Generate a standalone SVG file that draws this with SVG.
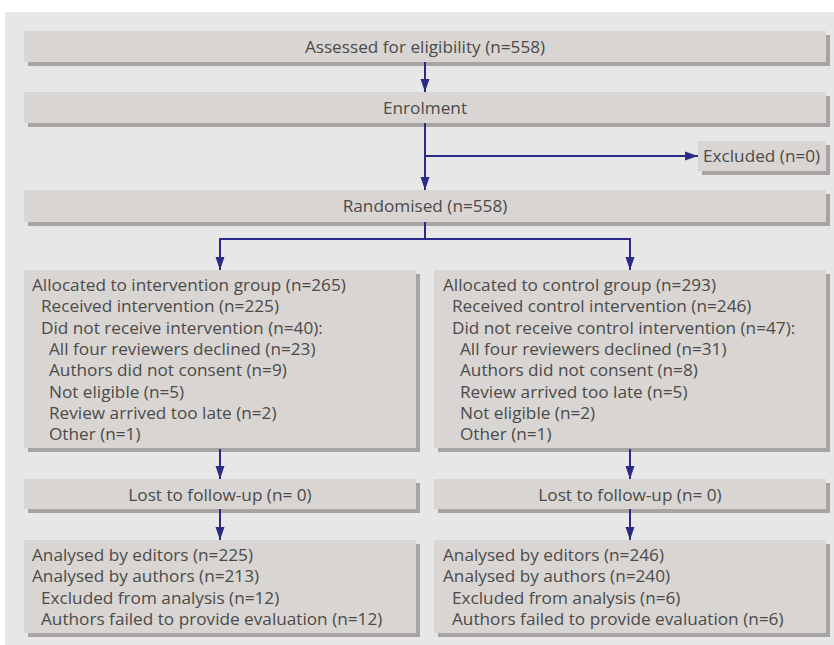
<svg xmlns="http://www.w3.org/2000/svg" width="834" height="645" viewBox="0 0 834 645">
<defs>
<marker id="ah" markerUnits="userSpaceOnUse" markerWidth="14" markerHeight="10" refX="13" refY="5" orient="auto">
<path d="M0,0.5 L13,5 L0,9.5 Z" fill="#2b2a86"/>
</marker>
</defs>
<style>
.box{fill:#d9d5d2}
.sh{fill:#a8a4a3}
text{font-family:"Open Sans","Noto Sans",sans-serif;font-size:17.2px;fill:#4b4b4b}
.c{text-anchor:middle}
.ln{fill:none;stroke:#2b2a86;stroke-width:2}
</style>
<rect x="5" y="12" width="829" height="633" fill="#e7e7e7"/>
<g id="assessed">
<rect class="sh" x="28" y="35" width="802" height="31"/>
<rect class="box" x="24" y="31" width="802" height="31"/>
<text class="c" x="425" y="52.5">Assessed for eligibility (n=558)</text>
</g>
<g id="enrolment">
<rect class="sh" x="28" y="96" width="802" height="31"/>
<rect class="box" x="24" y="92" width="802" height="31"/>
<text class="c" x="425" y="113.5">Enrolment</text>
</g>
<g id="excluded">
<rect class="sh" x="702" y="145" width="128" height="30"/>
<rect class="box" x="698" y="141" width="128" height="30"/>
<text x="703" y="162">Excluded (n=0)</text>
</g>
<g id="randomised">
<rect class="sh" x="28" y="194" width="802" height="32"/>
<rect class="box" x="24" y="190" width="802" height="32"/>
<text class="c" x="425" y="212">Randomised (n=558)</text>
</g>
<g id="alloc-intervention">
<rect class="sh" x="28" y="274" width="392" height="178"/>
<rect class="box" x="24" y="270" width="392" height="178"/>
<text x="32" y="291">Allocated to intervention group (n=265)</text>
<text x="41" y="312.3">Received intervention (n=225)</text>
<text x="41" y="333.6">Did not receive intervention (n=40):</text>
<text x="49" y="354.9">All four reviewers declined (n=23)</text>
<text x="49" y="376.2">Authors did not consent (n=9)</text>
<text x="49" y="397.5">Not eligible (n=5)</text>
<text x="49" y="418.8">Review arrived too late (n=2)</text>
<text x="49" y="440.1">Other (n=1)</text>
</g>
<g id="alloc-control">
<rect class="sh" x="438" y="274" width="392" height="178"/>
<rect class="box" x="434" y="270" width="392" height="178"/>
<text x="443" y="291">Allocated to control group (n=293)</text>
<text x="452" y="312.3">Received control intervention (n=246)</text>
<text x="452" y="333.6">Did not receive control intervention (n=47):</text>
<text x="460" y="354.9">All four reviewers declined (n=31)</text>
<text x="460" y="376.2">Authors did not consent (n=8)</text>
<text x="460" y="397.5">Review arrived too late (n=5)</text>
<text x="460" y="418.8">Not eligible (n=2)</text>
<text x="460" y="440.1">Other (n=1)</text>
</g>
<g id="lost-intervention">
<rect class="sh" x="28" y="483" width="392" height="30"/>
<rect class="box" x="24" y="479" width="392" height="30"/>
<text class="c" x="220" y="501">Lost to follow-up (n= 0)</text>
</g>
<g id="lost-control">
<rect class="sh" x="438" y="483" width="392" height="30"/>
<rect class="box" x="434" y="479" width="392" height="30"/>
<text class="c" x="630" y="501">Lost to follow-up (n= 0)</text>
</g>
<g id="analysed-intervention">
<rect class="sh" x="28" y="544" width="392" height="93"/>
<rect class="box" x="24" y="540" width="392" height="93"/>
<text x="32" y="561">Analysed by editors (n=225)</text>
<text x="32" y="582.3">Analysed by authors (n=213)</text>
<text x="41" y="603.6">Excluded from analysis (n=12)</text>
<text x="41" y="624.9">Authors failed to provide evaluation (n=12)</text>
</g>
<g id="analysed-control">
<rect class="sh" x="438" y="544" width="392" height="93"/>
<rect class="box" x="434" y="540" width="392" height="93"/>
<text x="443" y="561">Analysed by editors (n=246)</text>
<text x="443" y="582.3">Analysed by authors (n=240)</text>
<text x="452" y="603.6">Excluded from analysis (n=6)</text>
<text x="452" y="624.9">Authors failed to provide evaluation (n=6)</text>
</g>
<g id="connectors">
<path class="ln" d="M425,62 V92" marker-end="url(#ah)"/>
<path class="ln" d="M425,123 V190" marker-end="url(#ah)"/>
<path class="ln" d="M425,156 H698" marker-end="url(#ah)"/>
<path class="ln" d="M425,222 V239"/>
<path class="ln" d="M220,270 V239 H630 V270" marker-end="url(#ah)"/>
<path class="ln" d="M220,239 V270" marker-end="url(#ah)"/>
<path class="ln" d="M220,449 V479" marker-end="url(#ah)"/>
<path class="ln" d="M630,449 V479" marker-end="url(#ah)"/>
<path class="ln" d="M220,509 V540" marker-end="url(#ah)"/>
<path class="ln" d="M630,509 V540" marker-end="url(#ah)"/>
</g>
</svg>
